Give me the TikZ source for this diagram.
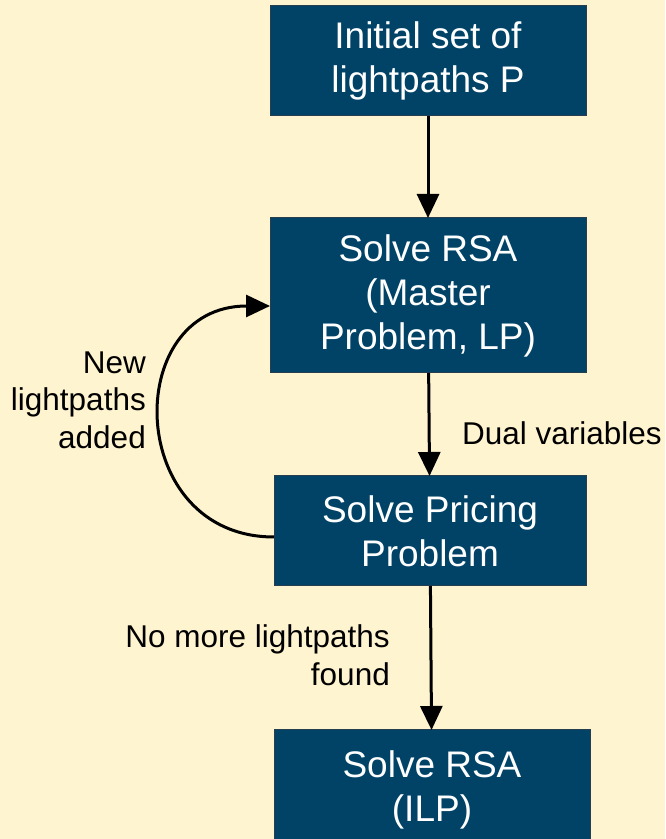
\documentclass[tikz,border=0pt]{standalone}
\usepackage{fontspec}
\setmainfont{Liberation Sans}
\usetikzlibrary{arrows.meta}
\definecolor{paper}{RGB}{255,244,208}
\definecolor{boxblue}{RGB}{0,67,103}
\definecolor{boxedge}{RGB}{38,62,80}
\tikzset{
  box/.style={draw=boxedge, line width=1pt, fill=boxblue, text=white, align=center,
    outer sep=0pt, font=\fontsize{37}{44}\selectfont},
  lbl/.style={inner sep=0pt, text=black, font=\fontsize{31.5}{37.5}\selectfont},
  flow/.style={line width=3pt, -{Triangle[length=24pt,width=22pt]}}
}
\begin{document}
\begin{tikzpicture}[x=1pt,y=1pt]
        % background
        \fill[paper] (0,0) rectangle (665,839);
        \useasboundingbox (0,0) rectangle (665,839);
        % steps
        \node[box, minimum width=316pt, minimum height=110pt] (init) at (428,778) {Initial set of\\lightpaths P};
        \node[box, minimum width=316pt, minimum height=155pt] (master) at (428,543.5) {Solve RSA\\(Master\\Problem, LP)};
        \node[box, minimum width=312pt, minimum height=110pt] (pricing) at (430,308) {Solve Pricing\\Problem};
        \node[box, minimum width=316pt, minimum height=120pt] (ilp) at (432,49) {Solve RSA\\(ILP)};
        % arrows
        \draw[flow] (init) -- (master);
        \draw[flow] (master) -- (pricing);
        \draw[flow] (pricing) -- (ilp);
        \draw[flow] ([yshift=-6pt]pricing.west) .. controls +(-149,0) and +(-149,0) .. ([yshift=-10.5pt]master.west);
        % text
        \node[lbl, align=right, anchor=east] (added) at (146,439) {New\\lightpaths\\added};
        \node[lbl, anchor=base west] (dual) at (462,394) {Dual variables};
        \node[lbl, align=right, anchor=east] (nomore) at (390,184) {No more lightpaths\\found};
\end{tikzpicture}
\end{document}
